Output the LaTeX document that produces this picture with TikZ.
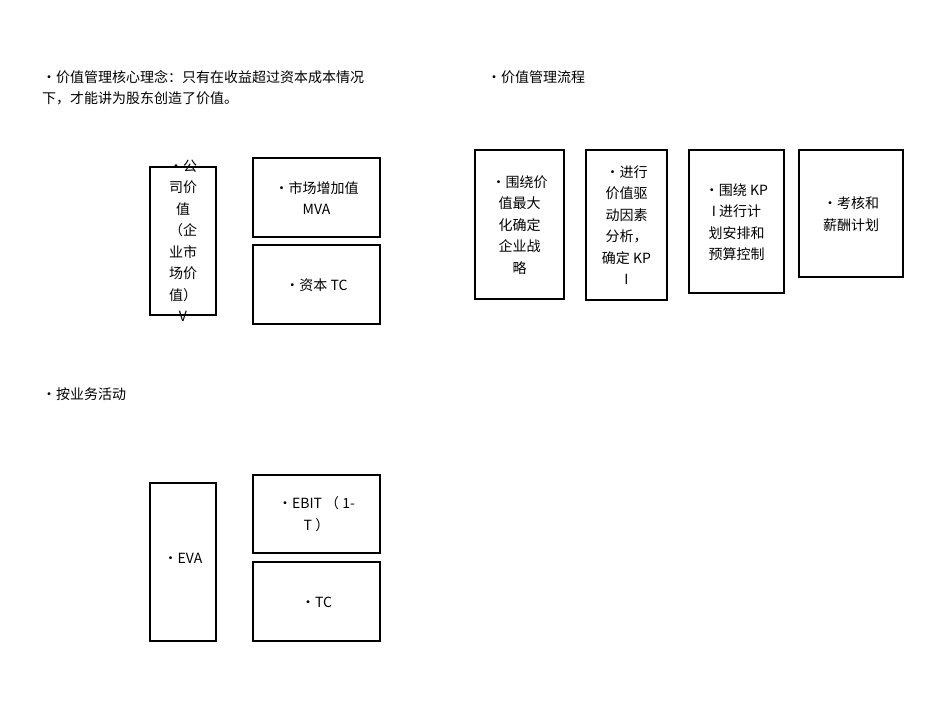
\documentclass[tikz,border=0pt]{standalone}
\usepackage{fontspec}
\newfontfamily\cjk{Noto Sans CJK SC}
\begin{document}
\begin{tikzpicture}[x=1pt,y=-1pt,
  bx/.style={draw,line width=1.3pt},
  tx/.style={font=\cjk\fontsize{14}{21.5}\selectfont,align=center,inner sep=0pt},
  hd/.style={font=\cjk\fontsize{14}{21}\selectfont,align=left,inner sep=0pt,anchor=north west}]
\useasboundingbox (0,0) rectangle (950,713);
\node[hd] (t1) at (42,70) {•价值管理核心理念：只有在收益超过资本成本情况\\下，才能讲为股东创造了价值。};
\node[hd] (t2) at (487,70) {•价值管理流程};
\node[hd] (t3) at (42,387) {•按业务活动};
\draw[bx] (150,167) rectangle (216,315); \node[tx] (v) at (183,241) {•公\\司价\\值\\（企\\业市\\场价\\值）\\V};
\draw[bx] (253,158) rectangle (380,237); \node[tx] (mva) at (316.5,198) {•市场增加值\\MVA};
\draw[bx] (253,245) rectangle (380,324); \node[tx] (tc) at (316.5,285) {•资本 TC};
\draw[bx] (475,150) rectangle (564,299); \node[tx] (f1) at (519.5,225) {•围绕价\\值最大\\化确定\\企业战\\略};
\draw[bx] (586,150) rectangle (667,300); \node[tx] (f2) at (626.5,225) {•进行\\价值驱\\动因素\\分析，\\确定 KP\\I};
\draw[bx] (689,150) rectangle (784,293); \node[tx] (f3) at (736.5,222) {•围绕 KP\\I 进行计\\划安排和\\预算控制};
\draw[bx] (799,150) rectangle (903,277); \node[tx] (f4) at (851,214) {•考核和\\薪酬计划};
\draw[bx] (150,483) rectangle (216,641); \node[tx] (eva) at (183,558) {•EVA};
\draw[bx] (253,475) rectangle (380,553); \node[tx] (ebit) at (316.5,514) {•EBIT （ 1-\\T ）};
\draw[bx] (253,562) rectangle (380,641); \node[tx] (tc2) at (316.5,602) {•TC};
\end{tikzpicture}
\end{document}
